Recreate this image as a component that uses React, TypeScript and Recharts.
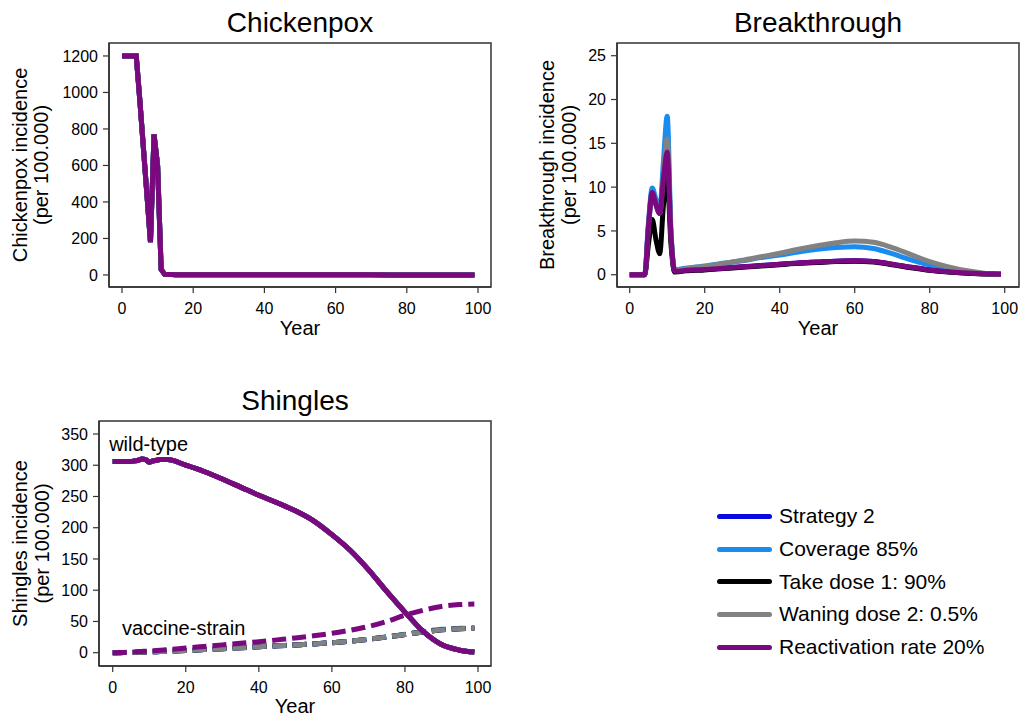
import React from "react";
import { LineChart, Line, XAxis, YAxis, ReferenceDot, ReferenceArea } from "recharts";

const FONT = '"Liberation Sans", Arial, Helvetica, sans-serif';

// sample years (yearly during the vaccination start-up, 5-yearly after)
const years = [0, 1, 2, 3, 4, 5, 6, 7, 8, 9, 10, 11, 12, 13, 14, 15, 20, 25, 30, 35, 40, 45, 50, 55, 60, 65, 70, 75, 80, 85, 90, 95, 99];

// chickenpox incidence, the scenarios lie on top of each other
const chickenpox = [1200, 1200, 1200, 1200, 1200, 960, 700, 440, 180, 770, 600, 30, 3, 2, 2, 1, 1, 1, 1, 1, 1, 1, 1, 1, 1, 1, 1, 0, 0, 0, 0, 0, 0];

// breakthrough incidence per scenario
const btStrategy2 = [0, 0, 0, 0, 0, 5.5, 9.4, 8, 7, 11.5, 14.5, 4.5, 0.4, 0.4, 0.45, 0.5, 0.6, 0.75, 0.9, 1.05, 1.2, 1.35, 1.45, 1.55, 1.6, 1.5, 1.2, 0.85, 0.55, 0.35, 0.2, 0.1, 0.05];
const btCoverage = [0, 0, 0, 0, 0, 6, 9.9, 8.6, 7.5, 13, 18.1, 5, 0.6, 0.6, 0.7, 0.75, 1.0, 1.3, 1.6, 1.95, 2.25, 2.6, 2.9, 3.1, 3.2, 3.0, 2.4, 1.7, 1.1, 0.6, 0.3, 0.1, 0.05];
const btTake = [0, 0, 0, 0, 0, 3.5, 6.3, 4, 2.4, 8, 11, 3.5, 0.3, 0.35, 0.4, 0.45, 0.55, 0.7, 0.85, 1.0, 1.15, 1.3, 1.4, 1.5, 1.55, 1.45, 1.15, 0.8, 0.5, 0.3, 0.18, 0.09, 0.05];
const btWaning = [0, 0, 0, 0, 0, 5.5, 9.4, 8, 7, 11.5, 15.5, 4.8, 0.5, 0.55, 0.6, 0.7, 0.95, 1.3, 1.65, 2.05, 2.45, 2.9, 3.3, 3.65, 3.85, 3.7, 3.1, 2.3, 1.5, 0.9, 0.45, 0.15, 0.05];
const btReactivation = [0, 0, 0, 0, 0, 5.5, 9.4, 8, 7, 11, 14, 4.5, 0.4, 0.4, 0.45, 0.5, 0.6, 0.75, 0.9, 1.05, 1.2, 1.35, 1.45, 1.55, 1.6, 1.5, 1.2, 0.85, 0.55, 0.35, 0.2, 0.1, 0.05];

// shingles: wild-type (same for all scenarios) and vaccine-strain
const shinglesWild = [306, 306, 306, 306, 306, 306, 307, 308, 310, 309, 305, 307, 308, 309, 309, 309, 300, 290, 278, 265, 252, 240, 227, 211, 189, 164, 133, 98, 65, 34, 13, 4, 1];
const vsStrategy2 = [0, 0, 0.1, 0.2, 0.3, 0.4, 0.5, 0.7, 0.9, 1.1, 1.3, 1.5, 1.7, 1.9, 2.1, 2.3, 3.5, 5, 6.5, 8, 9.5, 11, 12.5, 14, 16, 18.5, 21.5, 25, 29, 33, 36.5, 38.5, 39];
const vsCoverage = [0, 0, 0.1, 0.2, 0.3, 0.4, 0.5, 0.7, 0.9, 1.1, 1.3, 1.5, 1.7, 1.9, 2.1, 2.3, 3.5, 5, 6.5, 8, 9.5, 11, 12.5, 14, 16, 18.5, 21.5, 25.5, 29.5, 34, 37.5, 39, 39.5];
const vsTake = [0, 0, 0.1, 0.2, 0.3, 0.4, 0.5, 0.7, 0.9, 1.1, 1.3, 1.5, 1.7, 1.9, 2.1, 2.3, 3.5, 5, 6.5, 8, 9.5, 11, 12.5, 14, 16, 18.5, 21.5, 25, 29, 33, 36.5, 38.5, 39];
const vsWaning = [0, 0, 0.1, 0.2, 0.3, 0.4, 0.5, 0.7, 0.9, 1.1, 1.3, 1.5, 1.7, 1.9, 2.1, 2.3, 3.5, 5, 6.5, 8, 9.5, 11, 12.5, 14, 16, 18.5, 21.5, 25, 29, 33, 36.5, 38.5, 39];
const vsReactivation = [0, 0, 0.2, 0.4, 0.7, 1, 1.3, 1.7, 2, 2.4, 2.8, 3.2, 3.6, 4, 4.4, 4.8, 7.5, 10, 12.5, 15, 17.5, 20.5, 23.5, 27, 31, 36, 42, 50, 60, 68, 74, 77, 78];

const yearTicks = [0, 20, 40, 60, 80, 100];
const chickenpoxTicks = [0, 200, 400, 600, 800, 1000, 1200];
const breakthroughTicks = [0, 5, 10, 15, 20, 25];
const shinglesTicks = [0, 50, 100, 150, 200, 250, 300, 350];

const SERIES = [
  { key: "s2", name: "Strategy 2", color: "#0a0ae0", bt: btStrategy2, vs: vsStrategy2 },
  { key: "cov", name: "Coverage 85%", color: "#1a8cf0", bt: btCoverage, vs: vsCoverage },
  { key: "take", name: "Take dose 1: 90%", color: "#000000", bt: btTake, vs: vsTake },
  { key: "wane", name: "Waning dose 2: 0.5%", color: "#828282", bt: btWaning, vs: vsWaning },
  { key: "react", name: "Reactivation rate 20%", color: "#7a087e", bt: btReactivation, vs: vsReactivation },
];

const chickenpoxData = years.map((year, i) => {
  const row: any = { year };
  SERIES.forEach((s) => (row[s.key] = chickenpox[i]));
  return row;
});
const breakthroughData = years.map((year, i) => {
  const row: any = { year };
  SERIES.forEach((s) => (row[s.key] = s.bt[i]));
  return row;
});
const shinglesData = years.map((year, i) => {
  const row: any = { year };
  SERIES.forEach((s) => {
    row[s.key + "_wild"] = shinglesWild[i];
    row[s.key + "_vs"] = s.vs[i];
  });
  return row;
});

const AXIS = "#333";

function YTitle(props: any) {
  const { viewBox, lines, gaps } = props;
  const right = viewBox.x + viewBox.width;
  const cy = viewBox.y + viewBox.height / 2;
  return (
    <g>
      {lines.map((t: string, i: number) => {
        const cx = right - gaps[i];
        return (
          <text
            key={i}
            x={cx}
            y={cy}
            transform={`rotate(-90 ${cx} ${cy})`}
            textAnchor="middle"
            dominantBaseline="central"
            fontSize={20}
            fill="#000"
            fontFamily={FONT}
          >
            {t}
          </text>
        );
      })}
    </g>
  );
}

function Note(props: any) {
  const { viewBox, text } = props;
  return (
    <text x={viewBox.x} y={viewBox.y + viewBox.height / 2} fontSize={20} fill="#000" fontFamily={FONT}>
      {text}
    </text>
  );
}

interface PanelProps {
  left: number;
  top: number;
  title: string;
  titleTop: number;
  marginTop: number;
  marginRight: number;
  yWidth: number;
  xHeight: number;
  yearOffset: number;
  xDomain: [number, number];
  yDomain: [number, number];
  yTicks: number[];
  yLines: string[];
  yGaps: number[];
  data: any[];
  children?: React.ReactNode;
}

function Panel(p: PanelProps) {
  const W = 512;
  const H = 350;
  const plotLeft = p.yWidth;
  const plotWidth = W - p.yWidth - p.marginRight;
  return (
    <div style={{ position: "absolute", left: p.left, top: p.top, width: W, height: H }}>
      <div
        style={{
          position: "absolute",
          left: plotLeft,
          width: plotWidth,
          top: p.titleTop,
          textAlign: "center",
          fontSize: 28,
          lineHeight: "28px",
          fontFamily: FONT,
          color: "#000",
        }}
      >
        {p.title}
      </div>
      <LineChart
        width={W}
        height={H}
        data={p.data}
        margin={{ top: p.marginTop, right: p.marginRight, bottom: 0, left: 0 }}
      >
        <XAxis
          dataKey="year"
          type="number"
          domain={p.xDomain}
          ticks={yearTicks}
          height={p.xHeight}
          tickSize={6}
          tickMargin={10}
          tick={{ fontSize: 16, fill: "#000", fontFamily: FONT }}
          tickLine={{ stroke: AXIS, strokeWidth: 1.2 }}
          axisLine={{ stroke: AXIS, strokeWidth: 1.5 }}
          label={{ value: "Year", position: "insideBottom", offset: p.yearOffset, fontSize: 20, fill: "#000", fontFamily: FONT }}
        />
        <YAxis
          type="number"
          domain={p.yDomain}
          ticks={p.yTicks}
          width={p.yWidth}
          interval={0}
          tickSize={6}
          tickMargin={5}
          tick={{ fontSize: 16, fill: "#000", fontFamily: FONT }}
          tickLine={{ stroke: AXIS, strokeWidth: 1.2 }}
          axisLine={{ stroke: AXIS, strokeWidth: 1.5 }}
          label={{ content: (lp: any) => <YTitle {...lp} lines={p.yLines} gaps={p.yGaps} /> }}
        />
        <ReferenceArea
          x1={p.xDomain[0]}
          x2={p.xDomain[1]}
          y1={p.yDomain[0]}
          y2={p.yDomain[1]}
          fill="none"
          fillOpacity={0}
          stroke={AXIS}
          strokeWidth={1.5}
          ifOverflow="visible"
        />
        {p.children}
      </LineChart>
    </div>
  );
}

function Legend() {
  return (
    <div style={{ position: "absolute", left: 717, top: 500, fontFamily: FONT }}>
      {SERIES.map((s) => (
        <div key={s.key} style={{ display: "flex", alignItems: "center", height: 32.7 }}>
          <div style={{ width: 55, height: 5, borderRadius: 3, background: s.color, marginRight: 7 }} />
          <span style={{ fontSize: 21, color: "#000", whiteSpace: "nowrap" }}>{s.name}</span>
        </div>
      ))}
    </div>
  );
}

export default function App() {
  return (
    <div style={{ position: "absolute", left: 0, top: 0, width: 1024, height: 718, background: "#fff", overflow: "hidden" }}>
      <Panel
        left={0}
        top={0}
        title="Chickenpox"
        titleTop={9}
        marginTop={43}
        marginRight={21}
        yWidth={109}
        xHeight={63}
        yearOffset={15}
        xDomain={[-3.65, 103.65]}
        yDomain={[-66, 1271]}
        yTicks={chickenpoxTicks}
        yLines={["Chickenpox incidence", "(per 100.000)"]}
        yGaps={[89.5, 68.5]}
        data={chickenpoxData}
      >
        {SERIES.map((s) => (
          <Line key={s.key} dataKey={s.key} type="linear" stroke={s.color} strokeWidth={5} dot={false} isAnimationActive={false} />
        ))}
      </Panel>
      <Panel
        left={512}
        top={0}
        title="Breakthrough"
        titleTop={9}
        marginTop={43}
        marginRight={5}
        yWidth={105}
        xHeight={63}
        yearOffset={15}
        xDomain={[-3.39, 103.81]}
        yDomain={[-1.4, 26.45]}
        yTicks={breakthroughTicks}
        yLines={["Breakthrough incidence", "(per 100.000)"]}
        yGaps={[70, 48]}
        data={breakthroughData}
      >
        {SERIES.map((s) => (
          <Line key={s.key} dataKey={s.key} type="monotone" stroke={s.color} strokeWidth={5} dot={false} isAnimationActive={false} />
        ))}
      </Panel>
      <Panel
        left={0}
        top={368}
        title="Shingles"
        titleTop={19}
        marginTop={53}
        marginRight={21}
        yWidth={99}
        xHeight={52}
        yearOffset={5}
        xDomain={[-3.75, 103.56]}
        yDomain={[-21.3, 370.8]}
        yTicks={shinglesTicks}
        yLines={["Shingles incidence", "(per 100.000)"]}
        yGaps={[79, 57]}
        data={shinglesData}
      >
        {SERIES.map((s) => (
          <Line key={s.key + "_vs"} dataKey={s.key + "_vs"} type="monotone" stroke={s.color} strokeWidth={5} strokeDasharray="14 6" dot={false} isAnimationActive={false} />
        ))}
        {SERIES.map((s) => (
          <Line key={s.key + "_wild"} dataKey={s.key + "_wild"} type="monotone" stroke={s.color} strokeWidth={5} dot={false} isAnimationActive={false} />
        ))}
        <ReferenceDot x={-0.7} y={323} r={1} fill="none" stroke="none" label={{ content: (lp: any) => <Note {...lp} text="wild-type" /> }} />
        <ReferenceDot x={2.8} y={28.3} r={1} fill="none" stroke="none" label={{ content: (lp: any) => <Note {...lp} text="vaccine-strain" /> }} />
      </Panel>
      <Legend />
    </div>
  );
}
